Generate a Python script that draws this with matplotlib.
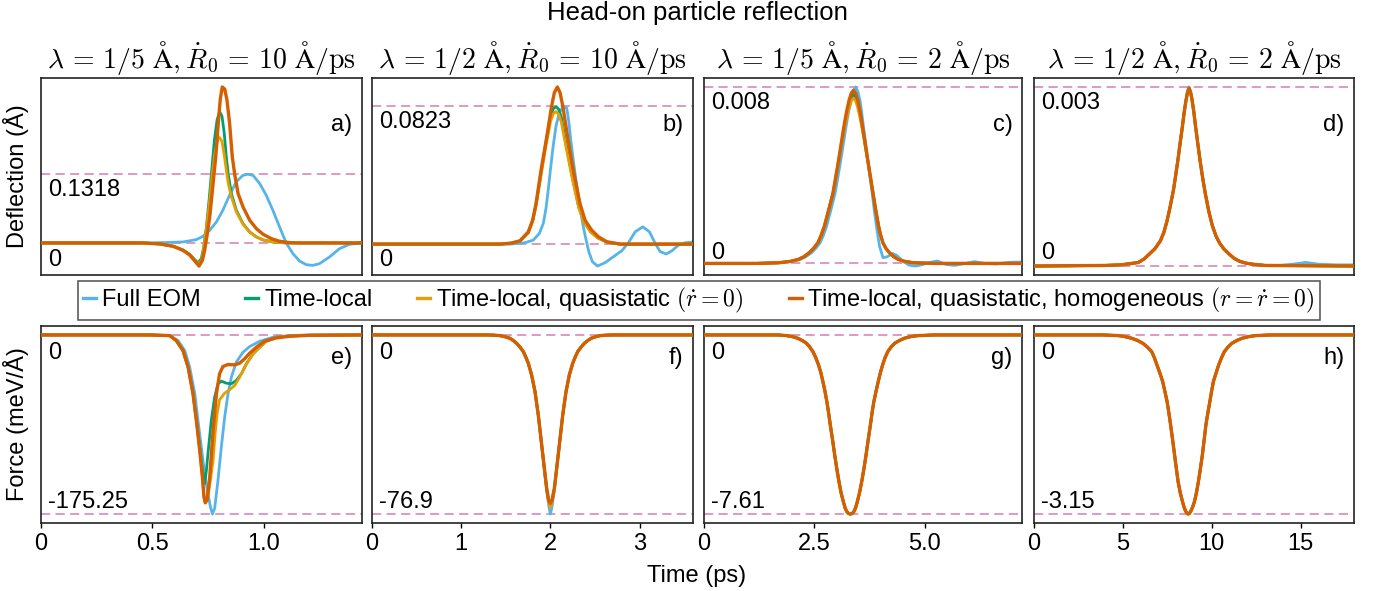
import matplotlib
matplotlib.use("Agg")
import matplotlib.pyplot as plt
from matplotlib.lines import Line2D

plt.rcParams['font.family'] = ['Liberation Sans', 'DejaVu Sans']
plt.rcParams['mathtext.fontset'] = 'cm'

# ---------------- data ----------------
model_labels = ["Full EOM", "Time-local", r"Time-local, quasistatic $(\dot{r} = 0)$",
                r"Time-local, quasistatic, homogeneous $(r = \dot{r} = 0)$"]
panel_titles = [r"$\lambda\,=\,1/5\ \mathrm{\AA}, \dot{R}_0\,=\,10\ \mathrm{\AA}/\mathrm{ps}$",
                r"$\lambda\,=\,1/2\ \mathrm{\AA}, \dot{R}_0\,=\,10\ \mathrm{\AA}/\mathrm{ps}$",
                r"$\lambda\,=\,1/5\ \mathrm{\AA}, \dot{R}_0\,=\,2\ \mathrm{\AA}/\mathrm{ps}$",
                r"$\lambda\,=\,1/2\ \mathrm{\AA}, \dot{R}_0\,=\,2\ \mathrm{\AA}/\mathrm{ps}$"]
panel_letters_top = ["a)", "b)", "c)", "d)"]
panel_letters_bot = ["e)", "f)", "g)", "h)"]
time_max = [1.44, 3.6, 7.2, 18.0]
xticks = [[0, 0.5, 1.0], [0, 1, 2, 3], [0, 2.5, 5.0], [0, 5, 10, 15]]
xticklabels = [["0", "0.5", "1.0"], ["0", "1", "2", "3"], ["0", "2.5", "5.0"], ["0", "5", "10", "15"]]
defl_max = [0.1318, 0.0823, 0.008, 0.003]
defl_max_labels = ["0.1318", "0.0823", "0.008", "0.003"]
force_min = [-175.25, -76.9, -7.61, -3.15]
force_min_labels = ["-175.25", "-76.9", "-7.61", "-3.15"]

# panel a (deflection)
a_t_blue = [0, 0.488, 0.637, 0.697, 0.727, 0.757, 0.787, 0.816, 0.846, 0.876, 0.906, 0.928, 0.951, 0.981,
            1.010, 1.040, 1.070, 1.100, 1.130, 1.160, 1.190, 1.219, 1.249, 1.294, 1.339, 1.384, 1.44]
a_blue = [0, 0, 0.0019, 0.0064, 0.0128, 0.0244, 0.0404, 0.0629, 0.0918, 0.1175, 0.1297, 0.1318, 0.1297, 0.1140,
          0.0918, 0.0629, 0.0308, 0.0, -0.0205, -0.0347, -0.0417, -0.0430, -0.0398, -0.0270, -0.0109, -0.0026, 0]
a_t_green = [0, 0.458, 0.533, 0.593, 0.637, 0.667, 0.690, 0.704, 0.719, 0.730, 0.742, 0.754, 0.766, 0.778, 0.790,
             0.801, 0.812, 0.822, 0.831, 0.840, 0.854, 0.876, 0.906, 0.936, 0.966, 0.996, 1.040, 1.100, 1.44]
a_green = [0, 0, -0.0019, -0.0064, -0.0135, -0.0218, -0.0321, -0.0378, -0.0302, -0.0077, 0.0308, 0.0822, 0.1400,
           0.1977, 0.2362, 0.2523, 0.2427, 0.2106, 0.1656, 0.1316, 0.0950, 0.0629, 0.0372, 0.0212, 0.0116, 0.0058,
           0.0019, 0, 0]
a_t_yellow = [0, 0.458, 0.533, 0.593, 0.637, 0.667, 0.690, 0.706, 0.721, 0.731, 0.743, 0.757, 0.769, 0.781, 0.793,
              0.801, 0.812, 0.822, 0.831, 0.840, 0.854, 0.876, 0.906, 0.936, 0.966, 0.996, 1.040, 1.100, 1.44]
a_yellow = [0, 0, -0.0019, -0.0064, -0.0141, -0.0231, -0.0334, -0.0411, -0.0321, -0.0077, 0.0308, 0.0822, 0.1335,
            0.1753, 0.1977, 0.2022, 0.1945, 0.1688, 0.1400, 0.1143, 0.0886, 0.0597, 0.0360, 0.0205, 0.0116, 0.0058,
            0.0019, 0, 0]
a_t_orange = [0, 0.458, 0.533, 0.593, 0.637, 0.667, 0.690, 0.709, 0.724, 0.734, 0.745, 0.757, 0.772, 0.784, 0.794,
              0.804, 0.813, 0.824, 0.834, 0.846, 0.858, 0.869, 0.884, 0.906, 0.936, 0.966, 0.996, 1.033, 1.070,
              1.115, 1.160, 1.44]
a_orange = [0, 0, -0.0019, -0.0064, -0.0141, -0.0231, -0.0347, -0.0443, -0.0334, -0.0141, 0.0148, 0.0501, 0.1143,
            0.1656, 0.2234, 0.2748, 0.2992, 0.2953, 0.2748, 0.2298, 0.1656, 0.1316, 0.0950, 0.0693, 0.0437, 0.0276,
            0.0167, 0.0083, 0.0032, 0.0006, 0, 0]

# panel b (deflection)
b_t_blue = [0, 1.547, 1.715, 1.809, 1.876, 1.921, 1.951, 1.978, 2.000, 2.030, 2.064, 2.101, 2.146, 2.184, 2.206,
            2.228, 2.258, 2.288, 2.315, 2.341, 2.363, 2.393, 2.431, 2.472, 2.528, 2.614, 2.708, 2.801, 2.876, 2.951,
            3.037, 3.112, 3.176, 3.232, 3.300, 3.363, 3.438, 3.513, 3.6]
b_blue = [0, 0, 0.0008, 0.0024, 0.0063, 0.0123, 0.0212, 0.0330, 0.0439, 0.0578, 0.0706, 0.0785, 0.0823, 0.0811,
          0.0736, 0.0627, 0.0498, 0.0380, 0.0281, 0.0192, 0.0123, 0.0044, -0.0045, -0.0105, -0.0131, -0.0111,
          -0.0075, -0.0040, 0.0008, 0.0073, 0.0103, 0.0073, 0.0004, -0.0045, -0.0059, -0.0040, -0.0006, 0.0008,
          0.0012]
b_t_green = [0, 1.434, 1.566, 1.659, 1.753, 1.801, 1.839, 1.895, 1.951, 2.004, 2.034, 2.064, 2.094, 2.124, 2.176,
             2.243, 2.318, 2.378, 2.453, 2.528, 2.633, 2.783, 3.6]
b_green = [0, 0, 0.0006, 0.0018, 0.0069, 0.0138, 0.0231, 0.0419, 0.0607, 0.0766, 0.0809, 0.0821, 0.0805, 0.0756,
           0.0597, 0.0409, 0.0222, 0.0133, 0.0073, 0.0038, 0.0012, 0, 0]
b_t_yellow = [0, 1.434, 1.566, 1.659, 1.753, 1.801, 1.839, 1.895, 1.951, 2.004, 2.034, 2.064, 2.094, 2.124, 2.176,
              2.243, 2.318, 2.378, 2.453, 2.528, 2.633, 2.783, 3.6]
b_yellow = [0, 0, 0.0006, 0.0018, 0.0067, 0.0136, 0.0227, 0.0409, 0.0587, 0.0736, 0.0779, 0.0791, 0.0775, 0.0726,
            0.0578, 0.0400, 0.0218, 0.0129, 0.0071, 0.0038, 0.0012, 0, 0]
b_t_orange = [0, 1.434, 1.566, 1.659, 1.753, 1.801, 1.839, 1.895, 1.959, 2.015, 2.045, 2.079, 2.109, 2.139, 2.195,
              2.258, 2.333, 2.390, 2.464, 2.539, 2.633, 2.783, 3.6]
b_orange = [0, 0, 0.0006, 0.0020, 0.0073, 0.0142, 0.0241, 0.0439, 0.0637, 0.0825, 0.0904, 0.0938, 0.0904, 0.0825,
            0.0637, 0.0439, 0.0241, 0.0142, 0.0083, 0.0044, 0.0014, 0, 0]

# panel c (deflection)
c_t_blue = [0, 1.200, 1.741, 1.98, 2.184, 2.31, 2.430, 2.53, 2.626, 2.70, 2.774, 2.87, 2.970, 3.034, 3.098, 3.157,
            3.216, 3.275, 3.334, 3.383, 3.433, 3.482, 3.531, 3.570, 3.610, 3.660, 3.708, 3.757, 3.807, 3.856, 3.905,
            3.974, 4.052, 4.151, 4.269, 4.367, 4.495, 4.643, 4.790, 4.938, 5.085, 5.282, 5.479, 5.675, 5.872, 6.118,
            6.364, 6.610, 6.905, 7.2]
c_blue = [0, 0, 0.00003, 0.00009, 0.00018, 0.00031, 0.00048, 0.00068, 0.00093, 0.00125, 0.00168, 0.00240, 0.00319,
          0.00394, 0.00469, 0.00545, 0.00620, 0.00688, 0.00740, 0.00780, 0.00800, 0.00780, 0.00740, 0.00685,
          0.00620, 0.00545, 0.00469, 0.00394, 0.00319, 0.00240, 0.00168, 0.00078, 0.00026, 0.00030, 0.00045,
          0.00036, 0.00011, -0.00008, -0.00012, -0.00006, 0.00003, 0.00011, -0.00005, -0.00009, -0.00002, 0.00008,
          0, -0.00003, 0.00005, 0.00006]
c_t_model = [0, 1.200, 1.692, 1.95, 2.134, 2.26, 2.380, 2.48, 2.577, 2.65, 2.725, 2.82, 2.921, 2.985, 3.049, 3.108,
             3.167, 3.226, 3.285, 3.335, 3.384, 3.433, 3.482, 3.536, 3.590, 3.649, 3.708, 3.767, 3.826, 3.890, 3.954,
             4.000, 4.052, 4.120, 4.200, 4.300, 4.397, 4.550, 4.741, 5.233, 7.2]
c_green = [0, 0, 0.00003, 0.00009, 0.00018, 0.00030, 0.00048, 0.00068, 0.00093, 0.00126, 0.00168, 0.00240, 0.00319,
           0.00392, 0.00466, 0.00538, 0.00610, 0.00672, 0.00725, 0.00755, 0.00765, 0.00755, 0.00725, 0.00672,
           0.00610, 0.00538, 0.00466, 0.00392, 0.00319, 0.00240, 0.00168, 0.00128, 0.00093, 0.00068, 0.00048,
           0.00030, 0.00018, 0.00009, 0.00003, 0, 0]
c_yellow = [0, 0, 0.00003, 0.00009, 0.00018, 0.00030, 0.00048, 0.00068, 0.00093, 0.00126, 0.00168, 0.00240, 0.00319,
            0.00390, 0.00462, 0.00532, 0.00600, 0.00657, 0.00705, 0.00738, 0.00748, 0.00738, 0.00705, 0.00657,
            0.00600, 0.00532, 0.00462, 0.00390, 0.00319, 0.00240, 0.00168, 0.00128, 0.00093, 0.00068, 0.00048,
            0.00030, 0.00018, 0.00009, 0.00003, 0, 0]
c_orange = [0, 0, 0.00003, 0.00009, 0.00018, 0.00030, 0.00048, 0.00068, 0.00093, 0.00126, 0.00168, 0.00240, 0.00319,
            0.00394, 0.00469, 0.00545, 0.00620, 0.00686, 0.00740, 0.00772, 0.00785, 0.00772, 0.00740, 0.00686,
            0.00620, 0.00545, 0.00469, 0.00394, 0.00319, 0.00240, 0.00168, 0.00128, 0.00093, 0.00068, 0.00048,
            0.00030, 0.00018, 0.00009, 0.00003, 0, 0]

# panel d (deflection)
d_t_model = [0, 4.0, 4.878, 5.4, 5.868, 6.2, 6.487, 6.8, 7.106, 7.3, 7.478, 7.65, 7.849, 7.97, 8.097, 8.22, 8.344,
             8.45, 8.542, 8.63, 8.716, 8.80, 8.889, 8.99, 9.087, 9.21, 9.335, 9.48, 9.632, 9.83, 10.028, 10.24,
             10.449, 10.7, 10.944, 11.25, 11.563, 11.9, 12.306, 13.0, 18.0]
d_model = [0, 0.00001, 0.00002, 0.00004, 0.00006, 0.00012, 0.00020, 0.00029, 0.00042, 0.00056, 0.00075, 0.00098,
           0.00128, 0.00152, 0.00178, 0.00206, 0.00233, 0.00258, 0.00276, 0.00290, 0.00298, 0.00292, 0.00279,
           0.00258, 0.00234, 0.00206, 0.00178, 0.00149, 0.00122, 0.00092, 0.00068, 0.00050, 0.00038, 0.00028,
           0.00021, 0.00013, 0.00008, 0.00005, 0.00003, 0.00001, 0]
d_t_blue = [0, 4.0, 4.878, 5.4, 5.868, 6.2, 6.487, 6.8, 7.106, 7.3, 7.478, 7.65, 7.849, 7.97, 8.097, 8.22, 8.344,
            8.45, 8.542, 8.63, 8.716, 8.80, 8.889, 8.99, 9.087, 9.21, 9.335, 9.48, 9.632, 9.83, 10.028, 10.24,
            10.449, 10.7, 10.944, 11.25, 11.563, 11.9, 12.306, 13.0, 13.791, 14.534, 15.277, 16.020, 17.010, 18.0]
d_blue = [0, 0.00001, 0.00002, 0.00004, 0.00006, 0.00012, 0.00020, 0.00029, 0.00042, 0.00056, 0.00075, 0.00098,
          0.00128, 0.00152, 0.00178, 0.00206, 0.00233, 0.00258, 0.00277, 0.00292, 0.00300, 0.00293, 0.00279,
          0.00258, 0.00234, 0.00206, 0.00178, 0.00149, 0.00122, 0.00092, 0.00068, 0.00050, 0.00038, 0.00028,
          0.00021, 0.00013, 0.00008, 0.00005, 0.00003, 0.00001, 0.00001, 0.00003, 0.00006, 0.00003, 0.00002,
          0.00002]

# panel e (force)
e_t_blue = [0, 0.488, 0.578, 0.615, 0.645, 0.667, 0.690, 0.706, 0.721, 0.734, 0.746, 0.760, 0.769, 0.779, 0.794,
            0.809, 0.824, 0.839, 0.854, 0.876, 0.906, 0.936, 0.981, 1.040, 1.115, 1.204, 1.44]
e_blue = [0, 0, -0.65, -5.53, -15.28, -31.54, -57.55, -86.81, -112.82, -135.58, -151.84, -168.10, -175.25, -169.72,
          -142.09, -109.57, -80.31, -57.55, -41.29, -26.66, -16.91, -11.38, -6.18, -2.28, -0.65, 0, 0]
e_t_green = [0, 0.488, 0.578, 0.607, 0.637, 0.660, 0.682, 0.697, 0.712, 0.724, 0.734, 0.742, 0.749, 0.764, 0.779,
             0.794, 0.809, 0.831, 0.854, 0.876, 0.899, 0.921, 0.951, 0.981, 1.010, 1.055, 1.115, 1.204, 1.44]
e_green = [0, 0, -0.65, -5.53, -15.28, -31.54, -57.55, -83.56, -109.57, -132.33, -145.34, -132.33, -116.08, -83.56,
           -60.80, -47.80, -45.19, -47.15, -47.80, -44.54, -38.04, -28.29, -18.53, -12.03, -6.18, -2.28, -0.98,
           -0.33, 0]
e_t_yellow = [0, 0.488, 0.578, 0.607, 0.637, 0.660, 0.682, 0.697, 0.712, 0.724, 0.731, 0.737, 0.749, 0.760, 0.772,
              0.781, 0.790, 0.801, 0.824, 0.846, 0.869, 0.891, 0.921, 0.951, 0.981, 1.010, 1.055, 1.115, 1.204, 1.44]
e_yellow = [0, 0, -0.65, -5.53, -15.28, -31.54, -57.55, -83.56, -112.82, -138.84, -158.34, -164.20, -158.34,
            -142.09, -122.58, -96.57, -77.06, -63.40, -56.90, -53.65, -49.42, -41.29, -28.94, -18.53, -12.03, -6.18,
            -2.28, -0.98, -0.33, 0]
e_t_orange = [0, 0.488, 0.578, 0.607, 0.637, 0.660, 0.682, 0.697, 0.712, 0.724, 0.731, 0.737, 0.745, 0.757, 0.772,
              0.787, 0.801, 0.816, 0.839, 0.869, 0.891, 0.913, 0.936, 0.966, 1.003, 1.055, 1.115, 1.204, 1.44]
e_orange = [0, 0, -0.65, -5.53, -15.28, -31.54, -57.55, -83.56, -112.82, -138.84, -158.34, -164.20, -161.59,
            -138.84, -93.32, -57.55, -38.04, -30.89, -28.94, -29.26, -27.64, -23.41, -17.88, -12.03, -6.18, -2.93,
            -1.30, -0.33, 0]

# panel f (force)
f_t = [0, 1.285, 1.36, 1.434, 1.49, 1.547, 1.585, 1.622, 1.66, 1.697, 1.725, 1.753, 1.790, 1.828, 1.865, 1.903,
       1.933, 1.959, 1.981, 2.0, 2.019, 2.045, 2.071, 2.101, 2.139, 2.176, 2.213, 2.251, 2.279, 2.307, 2.345, 2.382,
       2.42, 2.457, 2.51, 2.558, 2.63, 2.708, 3.6]
f_blue = [0, 0, -0.08, -0.29, -0.75, -1.43, -2.4, -3.58, -5.2, -7.16, -9.5, -12.17, -17.18, -24.34, -34.37, -47.26,
          -58.00, -66.59, -73.03, -76.90, -73.75, -66.59, -58.00, -47.26, -34.37, -24.34, -17.18, -12.17, -9.5, -7.16,
          -5.2, -3.58, -2.4, -1.43, -0.75, -0.29, -0.08, 0, 0]
f_green = [0, 0, -0.08, -0.29, -0.75, -1.43, -2.4, -3.58, -5.2, -7.16, -9.5, -12.17, -17.18, -24.34, -34.37, -47.26,
           -57.28, -66.00, -71.20, -73.03, -71.20, -66.00, -57.28, -47.26, -34.37, -24.34, -17.18, -12.17, -9.5,
           -7.16, -5.2, -3.58, -2.4, -1.43, -0.75, -0.29, -0.08, 0, 0]
f_yellow = [0, 0, -0.08, -0.29, -0.75, -1.43, -2.4, -3.58, -5.2, -7.16, -9.5, -12.17, -17.18, -24.34, -34.37, -47.26,
            -57.28, -66.20, -71.60, -74.18, -71.60, -66.20, -57.28, -47.26, -34.37, -24.34, -17.18, -12.17, -9.5,
            -7.16, -5.2, -3.58, -2.4, -1.43, -0.75, -0.29, -0.08, 0, 0]
f_orange = [0, 0, -0.08, -0.29, -0.75, -1.43, -2.4, -3.58, -5.2, -7.16, -9.5, -12.17, -17.18, -24.34, -34.37, -47.26,
            -57.28, -65.87, -70.88, -72.32, -70.88, -65.87, -57.28, -47.26, -34.37, -24.34, -17.18, -12.17, -9.5,
            -7.16, -5.2, -3.58, -2.4, -1.43, -0.75, -0.29, -0.08, 0, 0]

# panel g (force) - all four models coincide
g_t = [0, 1.677, 1.874, 2.0, 2.120, 2.22, 2.318, 2.39, 2.466, 2.53, 2.594, 2.645, 2.692, 2.74, 2.781, 2.82, 2.860,
       2.91, 2.959, 3.008, 3.057, 3.105, 3.156, 3.195, 3.235, 3.275, 3.314, 3.353, 3.393, 3.432, 3.471, 3.52, 3.570,
       3.62, 3.669, 3.718, 3.767, 3.806, 3.846, 3.895, 3.945, 3.994, 4.043, 4.10, 4.162, 4.24, 4.320, 4.43, 4.537,
       4.68, 4.832, 5.227, 7.2]
g_force = [0, 0, -0.03, -0.07, -0.14, -0.23, -0.35, -0.50, -0.71, -0.96, -1.28, -1.60, -1.98, -2.40, -2.83, -3.30,
           -3.83, -4.45, -5.10, -5.70, -6.24, -6.72, -7.09, -7.35, -7.51, -7.59, -7.61, -7.59, -7.51, -7.35, -7.09,
           -6.72, -6.24, -5.70, -5.10, -4.45, -3.83, -3.30, -2.83, -2.40, -1.98, -1.60, -1.28, -0.96, -0.71, -0.50,
           -0.35, -0.23, -0.14, -0.07, -0.03, 0, 0]

# panel h (force) - all four models coincide
h_t = [0, 3.892, 4.760, 5.13, 5.503, 5.81, 6.123, 6.37, 6.619, 6.77, 6.916, 7.08, 7.239, 7.36, 7.487, 7.586, 7.685,
       7.80, 7.908, 8.007, 8.106, 8.23, 8.354, 8.44, 8.528, 8.60, 8.677, 8.75, 8.825, 8.92, 9.024, 9.135, 9.247,
       9.36, 9.470, 9.57, 9.668, 9.78, 9.891, 9.99, 10.090, 10.24, 10.387, 10.55, 10.709, 10.92, 11.131, 11.42,
       11.701, 12.07, 12.445, 13.312, 18.0]
h_force = [0, 0, -0.012, -0.03, -0.059, -0.095, -0.147, -0.21, -0.293, -0.40, -0.528, -0.67, -0.821, -0.99, -1.173,
           -1.37, -1.584, -1.85, -2.112, -2.35, -2.581, -2.78, -2.933, -3.03, -3.097, -3.135, -3.15, -3.135, -3.097,
           -3.03, -2.933, -2.78, -2.581, -2.35, -2.112, -1.85, -1.584, -1.37, -1.173, -0.99, -0.821, -0.67, -0.528,
           -0.40, -0.293, -0.21, -0.147, -0.095, -0.059, -0.03, -0.012, 0, 0]

# ---------------- figure ----------------
colors = ['#56B4E9', '#009E73', '#E69F00', '#D55E00']
widths = [2.0, 2.0, 2.0, 2.4]
pink = '#D47FB2'
FS = 17

top_series = [
    [(a_t_blue, a_blue), (a_t_green, a_green), (a_t_yellow, a_yellow), (a_t_orange, a_orange)],
    [(b_t_blue, b_blue), (b_t_green, b_green), (b_t_yellow, b_yellow), (b_t_orange, b_orange)],
    [(c_t_blue, c_blue), (c_t_model, c_green), (c_t_model, c_yellow), (c_t_model, c_orange)],
    [(d_t_blue, d_blue), (d_t_model, d_model), (d_t_model, d_model), (d_t_model, d_model)],
]
bot_series = [
    [(e_t_blue, e_blue), (e_t_green, e_green), (e_t_yellow, e_yellow), (e_t_orange, e_orange)],
    [(f_t, f_blue), (f_t, f_green), (f_t, f_yellow), (f_t, f_orange)],
    [(g_t, g_force), (g_t, g_force), (g_t, g_force), (g_t, g_force)],
    [(h_t, h_force), (h_t, h_force), (h_t, h_force), (h_t, h_force)],
]

W, H = 1380, 591
fig = plt.figure(figsize=(W / 100, H / 100), dpi=100)
lefts_px = [41, 372, 704, 1034]
widths_px = [321, 321, 318, 320]
top_lbl_y_hi = [0.431, 0.777, 0.875, 0.875]
top_lbl_y_lo = [0.076, 0.076, 0.11, 0.11]

def style(ax):
    for s in ax.spines.values():
        s.set_linewidth(1.2)
        s.set_color('#222222')

for i in range(4):
    # top row
    ax = fig.add_axes([lefts_px[i] / W, 1 - 275 / H, widths_px[i] / W, 197 / H])
    ax.axhline(0, color=pink, lw=1.1, dashes=(6, 3.5), zorder=1)
    ax.axhline(defl_max[i], color=pink, lw=1.1, dashes=(6, 3.5), zorder=1)
    for k, (t, y) in enumerate(top_series[i]):
        ax.plot(t, y, color=colors[k], lw=widths[k], zorder=2 + k, solid_capstyle='round',
                solid_joinstyle='round')
    ax.set_xlim(0, time_max[i])
    ax.set_xticks([])
    ax.set_yticks([])
    style(ax)
    ax.set_title(panel_titles[i], fontsize=20, pad=7)
    ax.text(0.97, 0.76, panel_letters_top[i], transform=ax.transAxes, ha='right', va='center', fontsize=FS)
    ax.text(0.022, top_lbl_y_hi[i], defl_max_labels[i], transform=ax.transAxes, ha='left', va='center', fontsize=FS)
    ax.text(0.022, top_lbl_y_lo[i], "0", transform=ax.transAxes, ha='left', va='center', fontsize=FS)

    # bottom row
    ax = fig.add_axes([lefts_px[i] / W, 1 - 523 / H, widths_px[i] / W, 197 / H])
    ax.axhline(0, color=pink, lw=1.1, dashes=(6, 3.5), zorder=1)
    ax.axhline(force_min[i], color=pink, lw=1.1, dashes=(6, 3.5), zorder=1)
    for k, (t, y) in enumerate(bot_series[i]):
        ax.plot(t, y, color=colors[k], lw=widths[k], zorder=2 + k, solid_capstyle='round',
                solid_joinstyle='round')
    ax.set_xlim(0, time_max[i])
    ax.set_xticks(xticks[i])
    ax.set_xticklabels(xticklabels[i], fontsize=FS)
    ax.tick_params(axis='x', length=3.5, width=1, pad=4)
    ax.set_yticks([])
    style(ax)
    ax.text(0.97, 0.84, panel_letters_bot[i], transform=ax.transAxes, ha='right', va='center', fontsize=FS)
    ax.text(0.022, 0.865, "0", transform=ax.transAxes, ha='left', va='center', fontsize=FS)
    ax.text(0.022, 0.105, force_min_labels[i], transform=ax.transAxes, ha='left', va='center', fontsize=FS)

fig.text(697 / W, 1 - 13 / H, "Head-on particle reflection", ha='center', va='center', fontsize=18.5)
fig.text(16 / W, 1 - 176 / H, "Deflection (Å)", rotation=90, ha='center', va='center', fontsize=FS)
fig.text(16 / W, 1 - 424 / H, "Force (meV/Å)", rotation=90, ha='center', va='center', fontsize=FS)
fig.text(697 / W, 1 - 576 / H, "Time (ps)", ha='center', va='center', fontsize=FS)

handles = [Line2D([], [], color=c, lw=2.4) for c in colors]
leg = fig.legend(handles, model_labels, loc='center', bbox_to_anchor=(699 / W, 1 - 300.5 / H), ncol=4,
                 fontsize=FS, frameon=True, fancybox=False, edgecolor='#222222', handlelength=0.55,
                 handletextpad=0.25, columnspacing=1.9, borderpad=0.2, borderaxespad=0)
leg.get_frame().set_linewidth(1.1)

fig.savefig("out.png", dpi=100)
